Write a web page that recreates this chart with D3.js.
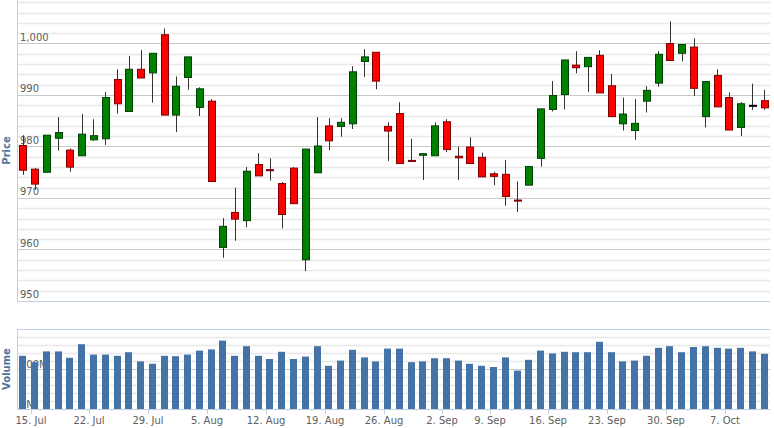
<!DOCTYPE html>
<html>
<head>
<meta charset="utf-8">
<script src="https://cdn.jsdelivr.net/npm/d3@7"></script>
<style>
  body { margin: 0; background: #fff; }
  text { font-family: "DejaVu Sans", sans-serif; }
</style>
</head>
<body>
<svg id="chart"></svg>
<script>
// trading days, 12 Jul - 10 Oct
var dates = [
  "2013-07-12",
  "2013-07-15","2013-07-16","2013-07-17","2013-07-18","2013-07-19",
  "2013-07-22","2013-07-23","2013-07-24","2013-07-25","2013-07-26",
  "2013-07-29","2013-07-30","2013-07-31","2013-08-01","2013-08-02",
  "2013-08-05","2013-08-06","2013-08-07","2013-08-08","2013-08-09",
  "2013-08-12","2013-08-13","2013-08-14","2013-08-15","2013-08-16",
  "2013-08-19","2013-08-20","2013-08-21","2013-08-22","2013-08-23",
  "2013-08-26","2013-08-27","2013-08-28","2013-08-29","2013-08-30",
  "2013-09-03","2013-09-04","2013-09-05","2013-09-06",
  "2013-09-09","2013-09-10","2013-09-11","2013-09-12","2013-09-13",
  "2013-09-16","2013-09-17","2013-09-18","2013-09-19","2013-09-20",
  "2013-09-23","2013-09-24","2013-09-25","2013-09-26","2013-09-27",
  "2013-09-30","2013-10-01","2013-10-02","2013-10-03","2013-10-04",
  "2013-10-07","2013-10-08","2013-10-09","2013-10-10"
];
var open  = [980.2,975.6,975.0,981.6,979.3,978.2,981.3,981.5,993.0,986.8,995.0,994.3,1001.7,986.1,993.4,987.6,988.8,960.4,967.2,965.6,976.5,
             975.5,972.8,975.8,958.0,974.9,984.0,983.9,984.4,996.5,998.3,983.9,986.4,977.3,978.3,978.2,984.8,978.1,979.9,977.9,974.7,974.6,969.6,
             972.5,977.7,987.2,990.1,995.8,995.5,997.7,991.8,984.4,983.1,988.8,992.3,1000.0,998.1,999.3,985.8,993.8,989.5,983.7,988.0,988.9];
var high  = [982.2,975.8,982.2,985.7,979.6,986.3,985.3,990.6,995.0,997.6,998.7,998.1,1002.9,993.6,997.4,991.5,989.2,966.1,972.0,976.0,978.7,
             977.7,973.1,976.0,979.5,985.7,985.5,985.5,995.6,998.9,998.3,984.7,988.6,981.5,978.6,984.7,985.3,980.0,981.8,978.8,975.1,977.4,973.2,
             976.1,987.3,992.7,996.8,998.5,997.3,998.7,994.1,989.5,989.2,991.7,998.5,1004.3,999.8,1001.0,992.6,995.0,990.5,988.6,992.2,991.0];
var low   = [974.5,971.6,975.0,979.2,975.1,978.2,981.1,980.3,986.4,986.8,993.3,988.5,986.1,982.8,991.0,985.9,973.2,958.4,961.7,964.3,974.3,
             973.4,964.1,968.9,955.8,974.9,979.3,981.9,983.4,993.5,991.1,977.2,976.7,977.1,973.5,978.2,978.9,973.5,976.7,974.1,972.5,968.5,967.3,
             972.5,976.1,986.8,987.2,994.2,990.6,990.4,985.8,983.1,981.3,986.6,991.6,996.7,996.5,989.8,983.7,987.7,983.2,982.0,987.1,987.1];
var close = [975.4,972.7,982.2,982.7,976.0,982.4,982.1,989.5,988.3,995.0,993.3,998.1,986.1,991.7,997.4,991.2,973.2,964.5,965.9,975.2,974.3,
             975.3,966.8,968.9,979.5,980.1,981.1,984.7,994.5,997.4,992.7,983.0,976.7,977.1,978.6,984.0,979.4,977.8,976.7,974.1,974.2,970.3,969.4,
             976.1,987.3,989.9,996.8,995.3,997.3,990.4,985.8,986.3,984.5,990.9,997.9,996.7,999.8,991.3,992.6,987.7,983.2,988.3,988.0,987.5];
// volume in millions
var volume = [133,117,144,144,128,162,136,136,133,142,119,113,133,132,136,146,149,171,133,157,133,
              125,143,125,131,157,108,121,148,129,119,151,151,117,119,127,127,121,113,108,105,129,96,
              123,146,139,143,142,142,168,142,119,121,133,153,157,142,155,157,153,151,153,144,138];
var tickDates  = ["2013-07-15","2013-07-22","2013-07-29","2013-08-05","2013-08-12","2013-08-19","2013-08-26",
                  "2013-09-03","2013-09-09","2013-09-16","2013-09-23","2013-09-30","2013-10-07"];
var tickLabels = ["15. Jul","22. Jul","29. Jul","5. Aug","12. Aug","19. Aug","26. Aug",
                  "2. Sep","9. Sep","16. Sep","23. Sep","30. Sep","7. Oct"];

var width = 774, height = 428;
var left = 17, right = 770;
var priceTop = 0, priceBottom = 301, volTop = 329, volBottom = 409;

var svg = d3.select("#chart").attr("width", width).attr("height", height);

var x = d3.scaleBand().domain(dates).range([left, right]);
var y = d3.scaleLinear().domain([950, 950 + (priceBottom - priceTop) / 5.15]).range([priceBottom, priceTop]);
var yv = d3.scaleLinear().domain([0, 200]).range([volBottom, volTop]);

var cx = function(d) { return x(d) + x.bandwidth() / 2; };

// price grid
var minorP = d3.range(950, 1009, 2);
svg.append("g").selectAll("line").data(minorP).enter().append("line")
  .attr("x1", left).attr("x2", right)
  .attr("y1", function(d) { return Math.round(y(d)) + 0.5; })
  .attr("y2", function(d) { return Math.round(y(d)) + 0.5; })
  .attr("stroke", function(d) { return d % 10 === 0 ? "#c8c8c8" : "#e8e8e8"; })
  .attr("stroke-width", function(d) { return d % 10 === 0 ? 1 : 1.5; });

svg.append("g").selectAll("text").data([950, 960, 970, 980, 990, 1000]).enter().append("text")
  .attr("x", left + 3).attr("y", function(d) { return y(d) - 3; })
  .attr("font-size", 10).attr("fill", "#606060")
  .text(d3.format(","));

// volume grid
svg.append("g").selectAll("line").data(d3.range(0, 201, 20)).enter().append("line")
  .attr("x1", left).attr("x2", right)
  .attr("y1", function(d) { return Math.round(yv(d)) + 0.5; })
  .attr("y2", function(d) { return Math.round(yv(d)) + 0.5; })
  .attr("stroke", function(d) { return d % 100 === 0 ? "#c8c8c8" : "#e8e8e8"; })
  .attr("stroke-width", function(d) { return d % 100 === 0 ? 1 : 1.5; });

svg.append("g").selectAll("text").data([0, 100]).enter().append("text")
  .attr("x", left + 3).attr("y", function(d) { return yv(d) - 1; })
  .attr("font-size", 10).attr("fill", "#606060")
  .text(function(d) { return d + "M"; });

// axis lines
svg.append("line").attr("x1", left + 0.5).attr("x2", left + 0.5).attr("y1", priceTop).attr("y2", priceBottom).attr("stroke", "#c0d0e0");
svg.append("line").attr("x1", left + 0.5).attr("x2", left + 0.5).attr("y1", volTop).attr("y2", volBottom).attr("stroke", "#c0d0e0");
svg.append("line").attr("x1", left).attr("x2", right).attr("y1", priceBottom + 0.5).attr("y2", priceBottom + 0.5).attr("stroke", "#c0d0e0");
svg.append("line").attr("x1", left).attr("x2", right).attr("y1", volTop + 0.5).attr("y2", volTop + 0.5).attr("stroke", "#c0d0e0");

// axis titles
svg.append("text").attr("transform", "translate(10," + (priceBottom + priceTop) / 2 + ") rotate(-90)")
  .attr("text-anchor", "middle").attr("font-size", 10).attr("font-weight", "bold").attr("fill", "#4d759e").text("Price");
svg.append("text").attr("transform", "translate(10," + (volBottom + volTop) / 2 + ") rotate(-90)")
  .attr("text-anchor", "middle").attr("font-size", 10).attr("font-weight", "bold").attr("fill", "#4d759e").text("Volume");

// candles
var idx = d3.range(dates.length);
var bw = 7;
var c = svg.append("g").selectAll("g").data(idx).enter().append("g");
c.append("line")
  .attr("x1", function(i) { return Math.round(cx(dates[i])) + 0.5; })
  .attr("x2", function(i) { return Math.round(cx(dates[i])) + 0.5; })
  .attr("y1", function(i) { return y(high[i]); })
  .attr("y2", function(i) { return y(low[i]); })
  .attr("stroke", "#333").attr("stroke-width", 1);
c.append("rect")
  .attr("x", function(i) { return Math.round(cx(dates[i]) - bw / 2) + 0.5; })
  .attr("width", bw)
  .attr("y", function(i) { return y(Math.max(open[i], close[i])); })
  .attr("height", function(i) { return Math.max(1, y(Math.min(open[i], close[i])) - y(Math.max(open[i], close[i]))); })
  .attr("fill", function(i) { return close[i] > open[i] ? "#008000" : close[i] < open[i] ? "#ff0000" : "#000"; })
  .attr("stroke", function(i) { return close[i] > open[i] ? "#004000" : close[i] < open[i] ? "#800000" : "#000"; })
  .attr("stroke-width", 1);

// volume bars
svg.append("g").selectAll("rect").data(idx).enter().append("rect")
  .attr("x", function(i) { return Math.round(cx(dates[i]) - 3.5); })
  .attr("width", 7)
  .attr("y", function(i) { return yv(volume[i]); })
  .attr("height", function(i) { return yv(0) - yv(volume[i]); })
  .attr("fill", "#4572a7");

// x axis
svg.append("line").attr("x1", left).attr("x2", right).attr("y1", volBottom + 0.5).attr("y2", volBottom + 0.5).attr("stroke", "#c0d0e0");
var xt = svg.append("g").selectAll("g").data(tickDates).enter().append("g")
  .attr("transform", function(d) { return "translate(" + Math.round(cx(d) - 4) + ",0)"; });
xt.append("line").attr("x1", 0.5).attr("x2", 0.5).attr("y1", volBottom).attr("y2", volBottom + 5).attr("stroke", "#c0d0e0");
xt.append("text").attr("y", 424).attr("text-anchor", "middle").attr("font-size", 10).attr("fill", "#606060")
  .text(function(d, i) { return tickLabels[i]; });
</script>
</body>
</html>
